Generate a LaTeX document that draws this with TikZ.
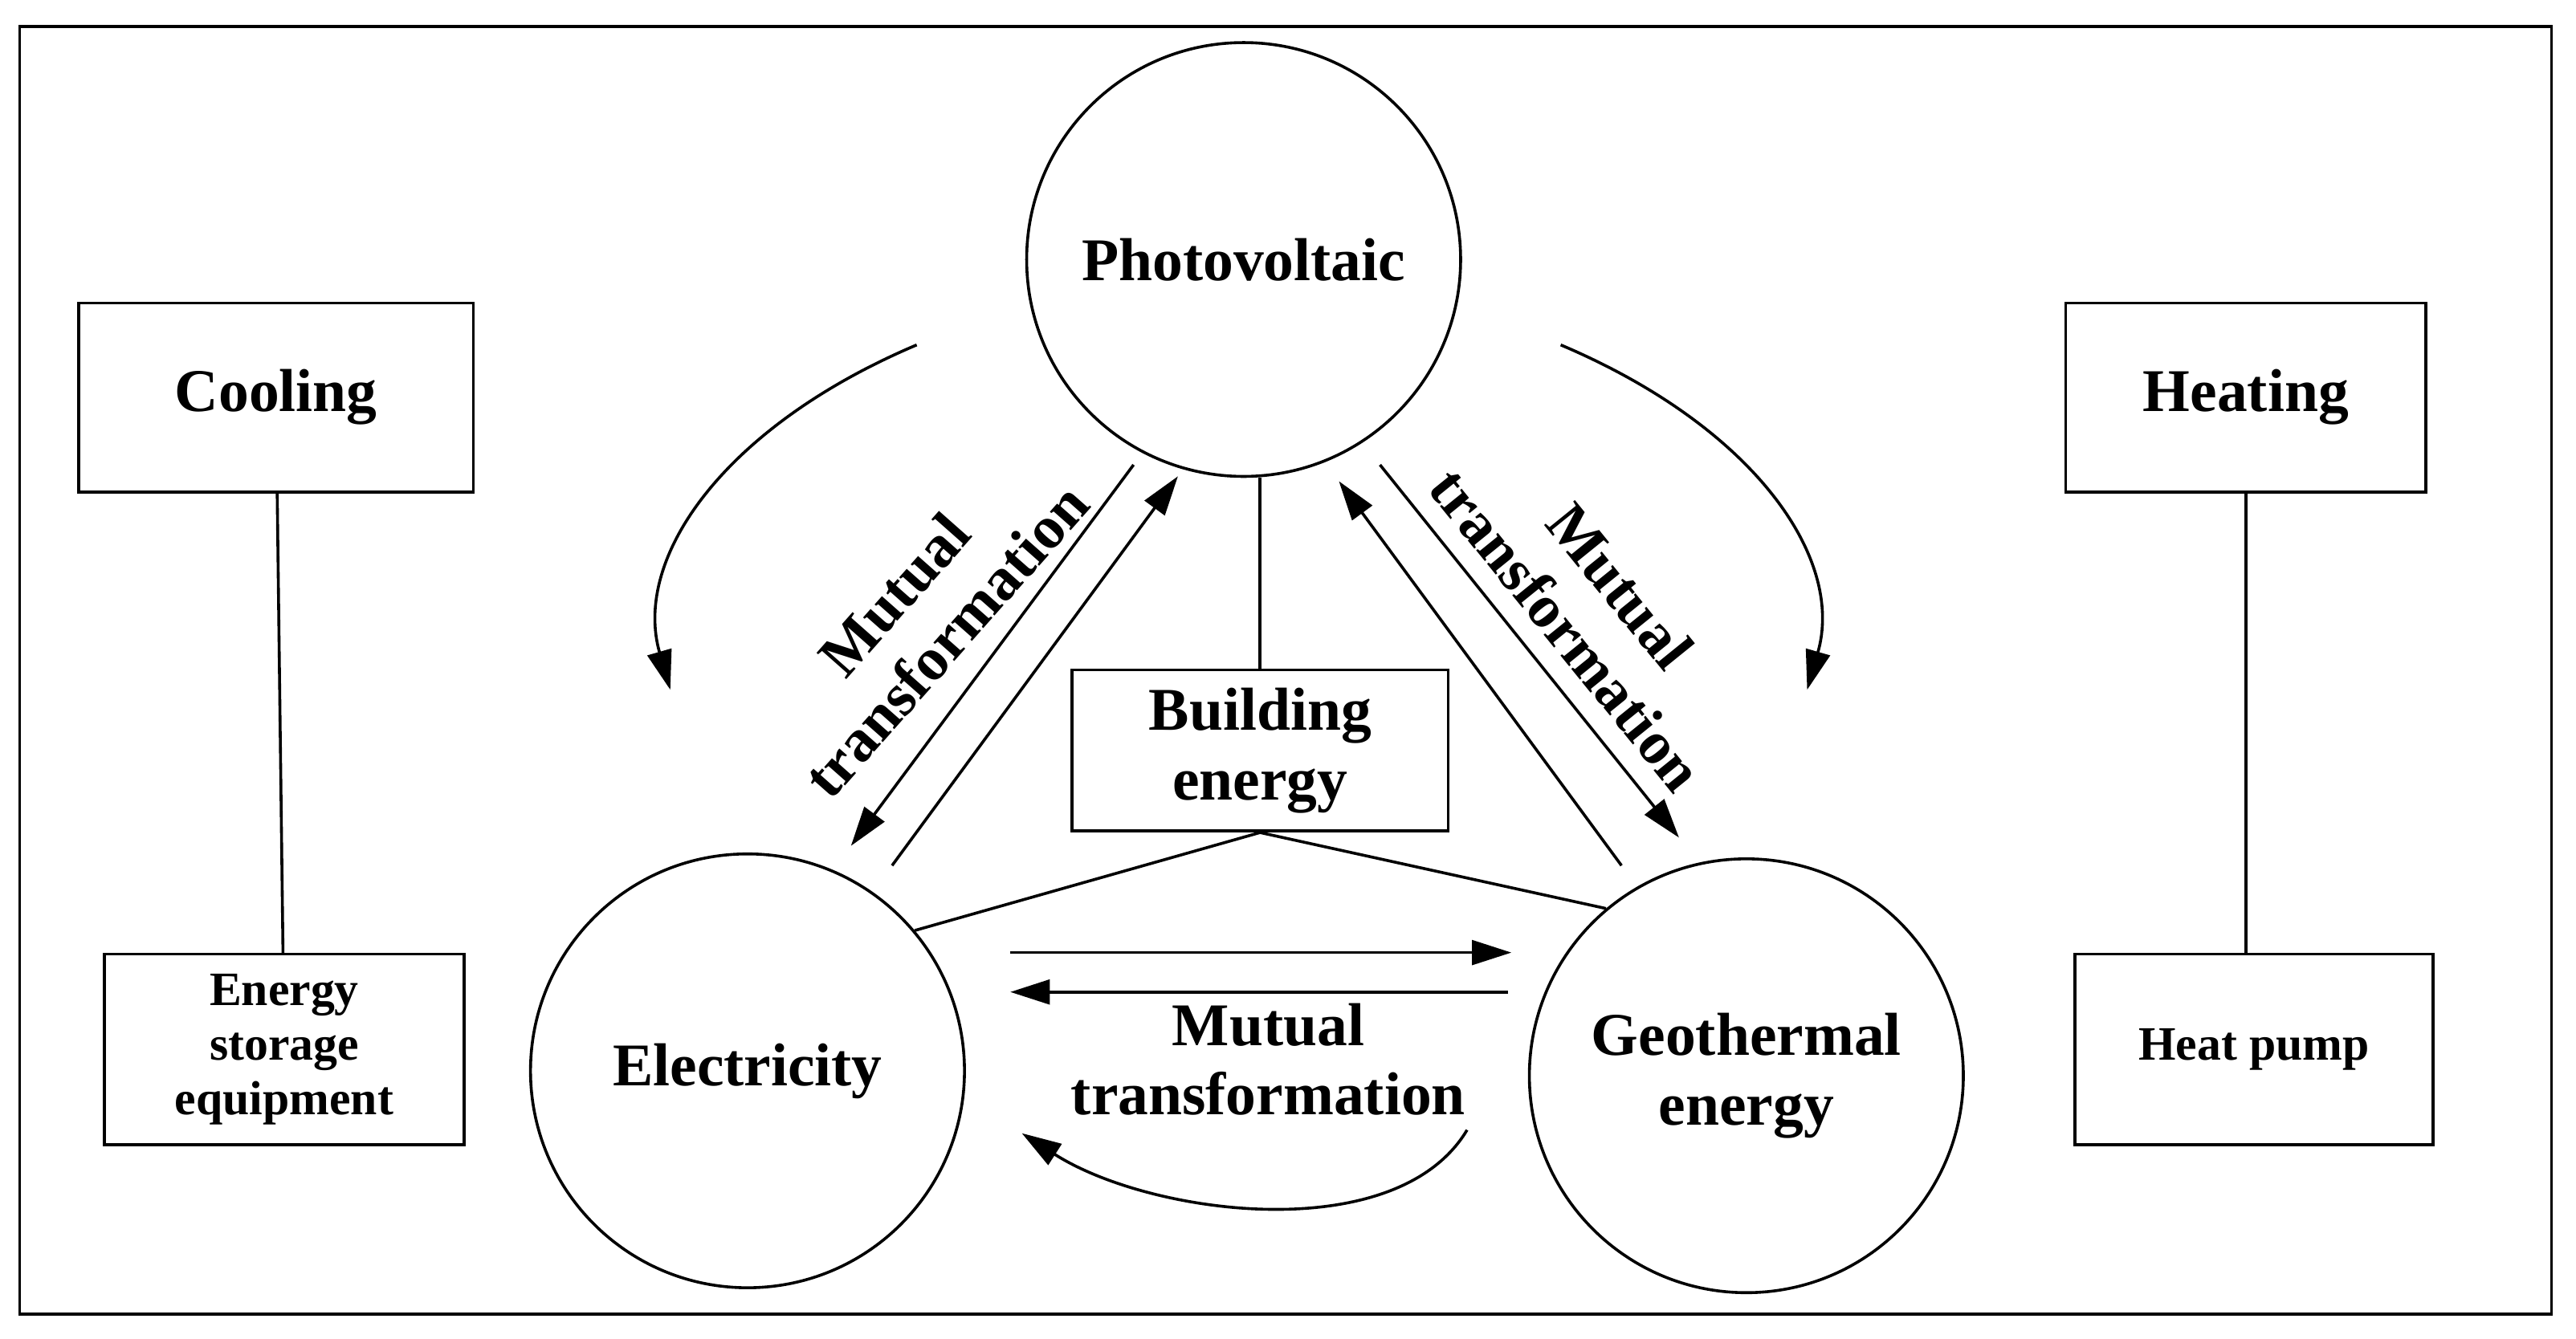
\documentclass[tikz,border=0pt]{standalone}
\usepackage{fontspec}
\setmainfont{Liberation Serif}
\usetikzlibrary{arrows.meta}

\begin{document}
\begin{tikzpicture}[x=0.01cm,y=-0.01cm,line width=0.5pt,
  src/.style={draw,circle,minimum size=2.64cm,inner sep=0pt,font=\fontsize{10.5}{12}\selectfont\bfseries,align=center},
  box/.style={draw,inner sep=0pt,font=\fontsize{10.5}{12}\selectfont\bfseries,align=center},
  arr/.style={-{Triangle[length=2.4mm,width=1.5mm]}},
  lbl/.style={font=\fontsize{10.5}{12}\selectfont\bfseries,align=center}]

  \def\xmax{1568}
  \def\ymax{815}
  \useasboundingbox (0,0) rectangle (\xmax,\ymax);

  % frame
  \draw (12,16) rectangle (1553,800);

  % energy sources
  \node[src] (pv) at (757,158) {Photovoltaic};
  \node[src] (el) at (455,652) {Electricity};
  \node[src] (geo) at (1063,655) {Geothermal\\energy};

  % boxes
  \node[box,minimum width=2.4cm,minimum height=1.15cm] (cool) at (168,242) {Cooling};
  \node[box,minimum width=2.19cm,minimum height=1.16cm,font=\fontsize{8.3}{9.5}\selectfont\bfseries] (stor) at (173,639) {Energy\\storage\\equipment};
  \node[box,minimum width=2.19cm,minimum height=1.15cm] (heat) at (1367,242) {Heating};
  \node[box,minimum width=2.18cm,minimum height=1.16cm,font=\fontsize{8.3}{10}\selectfont\bfseries] (pump) at (1372,639) {Heat pump};
  \node[box,minimum width=2.29cm,minimum height=0.98cm] (bld) at (767,457) {Building\\energy};

  % plain links
  \draw (cool) -- (stor);
  \draw (heat.south) -- (heat.south |- pump.north);
  \draw (pv.south -| bld.north) -- (bld.north);
  \draw (bld.south) -- (el.40);
  \draw (bld.south) -- (geo.130);

  % straight arrows
  \coordinate (a1) at (690,283); \coordinate (a2) at (518,515);
  \coordinate (b1) at (543,527); \coordinate (b2) at (717,290);
  \coordinate (c1) at (840,283); \coordinate (c2) at (1022,510);
  \coordinate (d1) at (987,527); \coordinate (d2) at (815,293);
  \coordinate (e1) at (615,580); \coordinate (e2) at (920,580);
  \coordinate (f1) at (918,604); \coordinate (f2) at (615,604);
  \draw[arr] (a1) -- (a2);
  \draw[arr] (b1) -- (b2);
  \draw[arr] (c1) -- (c2);
  \draw[arr] (d1) -- (d2);
  \draw[arr] (e1) -- (e2);
  \draw[arr] (f1) -- (f2);

  % curved arrows
  \coordinate (g1) at (558,210); \coordinate (g2) at (408,420);
  \coordinate (h1) at (950,210); \coordinate (h2) at (1100,420);
  \coordinate (k1) at (893,688); \coordinate (k2) at (622,690);
  \draw[arr] (g1) .. controls (440,260) and (385,340) .. (g2);
  \draw[arr] (h1) .. controls (1068,260) and (1123,340) .. (h2);
  \draw[arr] (k1) .. controls (850,760) and (700,740) .. (k2);

  % labels
  \node[lbl,rotate=48.5] (lt) at (560,376) {Mutual\\transformation};
  \node[lbl,rotate=-51] (rt) at (970,370) {Mutual\\transformation};
  \node[lbl] (bt) at (772,645) {Mutual\\transformation};

\end{tikzpicture}
\end{document}
